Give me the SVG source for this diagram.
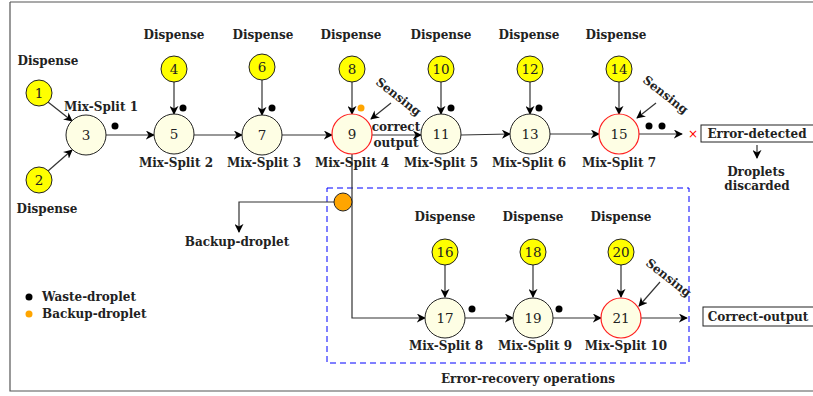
<svg xmlns="http://www.w3.org/2000/svg" width="813" height="396" viewBox="0 0 813 396">
<defs>
<marker id="ah" viewBox="0 0 10 10" refX="9" refY="5" markerWidth="9" markerHeight="9" markerUnits="userSpaceOnUse" orient="auto">
<path d="M0,0 L10,5 L0,10 L3,5 Z" fill="#000"/>
</marker>
</defs>
<style>
.lbl{font-family:"DejaVu Serif","Liberation Serif",serif;font-weight:bold;font-size:12px;fill:#222;text-anchor:middle}
.num{font-family:"DejaVu Serif","Liberation Serif",serif;font-size:13.5px;fill:#222;text-anchor:middle;dominant-baseline:central}
.disp{fill:#ffff00;stroke:#222;stroke-width:1}
.mix{fill:#fefee4;stroke:#222;stroke-width:1}
.sens{fill:#fefee4;stroke:#ff2020;stroke-width:1.2}
.ln{stroke:#333;stroke-width:1.2;fill:none}
.arr{stroke:#333;stroke-width:1.2;fill:none;marker-end:url(#ah)}
.waste{fill:#000}
.backup{fill:#ffa500}
.box{fill:#fff;stroke:#222;stroke-width:1}
</style>
<rect width="813" height="396" fill="#fff"/>
<path d="M10,2 L813,2 M10,2 L10,391 L813,391" stroke="#555" stroke-width="1.2" fill="none"/>
<rect x="327" y="188" width="362" height="175" fill="none" stroke="#0000ff" stroke-width="1" stroke-dasharray="6,4"/>

<g id="connectors">
<line class="arr" x1="48" y1="102" x2="72" y2="121"/>
<line class="arr" x1="48" y1="171" x2="72" y2="150"/>
<line class="arr" x1="106" y1="135" x2="154" y2="135"/>
<line class="arr" x1="174" y1="82" x2="174" y2="114"/>
<line class="arr" x1="194" y1="135" x2="242" y2="135"/>
<line class="arr" x1="262" y1="80" x2="262" y2="115"/>
<line class="arr" x1="282" y1="135" x2="332" y2="135"/>
<line class="arr" x1="352" y1="82" x2="352" y2="114"/>
<line class="arr" x1="372" y1="135" x2="421" y2="135"/>
<line class="arr" x1="441" y1="82" x2="441" y2="114"/>
<line class="arr" x1="461" y1="135" x2="510" y2="134"/>
<line class="arr" x1="530" y1="82" x2="530" y2="114"/>
<line class="arr" x1="550" y1="134" x2="599" y2="134"/>
<line class="arr" x1="619" y1="82" x2="619" y2="114"/>
<line class="arr" x1="639" y1="134" x2="682" y2="134"/>
<line class="arr" x1="757" y1="145" x2="757" y2="158"/>
<line class="arr" x1="391" y1="103" x2="371" y2="119"/>
<line class="arr" x1="656" y1="103" x2="637" y2="118"/>
<line class="arr" x1="660" y1="282" x2="639" y2="306"/>
<path class="arr" d="M352,154 L352,318 L425,318"/>
<path class="arr" d="M334,202 L239,202 L239,232"/>
<line class="arr" x1="445" y1="265" x2="445" y2="297"/>
<line class="arr" x1="533" y1="265" x2="533" y2="297"/>
<line class="arr" x1="621" y1="265" x2="621" y2="297"/>
<line class="arr" x1="465" y1="318" x2="513" y2="318"/>
<line class="arr" x1="553" y1="318" x2="601" y2="318"/>
<line class="arr" x1="641" y1="318" x2="687" y2="318"/>
</g>

<g id="n1"><circle class="disp" cx="39" cy="93" r="13"/><text class="num" x="39" y="93">1</text></g>
<g id="n2"><circle class="disp" cx="39" cy="180" r="13"/><text class="num" x="39" y="180">2</text></g>
<g id="n3"><circle class="mix" cx="86" cy="135" r="20"/><text class="num" x="86" y="135">3</text></g>
<g id="n4"><circle class="disp" cx="174" cy="69" r="13"/><text class="num" x="174" y="69">4</text></g>
<g id="n5"><circle class="mix" cx="174" cy="134" r="20"/><text class="num" x="174" y="134">5</text></g>
<g id="n6"><circle class="disp" cx="262" cy="67" r="13"/><text class="num" x="262" y="67">6</text></g>
<g id="n7"><circle class="mix" cx="262" cy="135" r="20"/><text class="num" x="262" y="135">7</text></g>
<g id="n8"><circle class="disp" cx="352" cy="69" r="13"/><text class="num" x="352" y="69">8</text></g>
<g id="n9"><circle class="sens" cx="352" cy="134" r="20"/><text class="num" x="352" y="134">9</text></g>
<g id="n10"><circle class="disp" cx="441" cy="69" r="13"/><text class="num" x="441" y="69">10</text></g>
<g id="n11"><circle class="mix" cx="441" cy="134" r="20"/><text class="num" x="441" y="134">11</text></g>
<g id="n12"><circle class="disp" cx="530" cy="69" r="13"/><text class="num" x="530" y="69">12</text></g>
<g id="n13"><circle class="mix" cx="530" cy="134" r="20"/><text class="num" x="530" y="134">13</text></g>
<g id="n14"><circle class="disp" cx="619" cy="69" r="13"/><text class="num" x="619" y="69">14</text></g>
<g id="n15"><circle class="sens" cx="619" cy="134" r="20"/><text class="num" x="619" y="134">15</text></g>
<g id="n16"><circle class="disp" cx="445" cy="252" r="13"/><text class="num" x="445" y="252">16</text></g>
<g id="n17"><circle class="mix" cx="445" cy="318" r="20"/><text class="num" x="445" y="318">17</text></g>
<g id="n18"><circle class="disp" cx="533" cy="252" r="13"/><text class="num" x="533" y="252">18</text></g>
<g id="n19"><circle class="mix" cx="533" cy="318" r="20"/><text class="num" x="533" y="318">19</text></g>
<g id="n20"><circle class="disp" cx="621" cy="252" r="13"/><text class="num" x="621" y="252">20</text></g>
<g id="n21"><circle class="sens" cx="621" cy="318" r="20"/><text class="num" x="621" y="318">21</text></g>

<g id="backup-node"><circle cx="343" cy="202" r="9" fill="#ffa500" stroke="#222" stroke-width="1"/></g>

<g id="waste-dots">
<circle class="waste" cx="115" cy="126" r="3.5"/>
<circle class="waste" cx="183" cy="108" r="3.5"/>
<circle class="waste" cx="272" cy="108" r="3.5"/>
<circle class="backup" cx="361" cy="108" r="3.5"/>
<circle class="waste" cx="451" cy="108" r="3.5"/>
<circle class="waste" cx="539" cy="108" r="3.5"/>
<circle class="waste" cx="649" cy="126" r="3.5"/>
<circle class="waste" cx="662" cy="126" r="3.5"/>
<circle class="waste" cx="472" cy="309" r="3.5"/>
<circle class="waste" cx="559" cy="309" r="3.5"/>
</g>

<g id="labels">
<text class="lbl" x="48" y="65">Dispense</text>
<text class="lbl" x="47" y="213">Dispense</text>
<text class="lbl" x="174" y="39">Dispense</text>
<text class="lbl" x="263" y="39">Dispense</text>
<text class="lbl" x="351" y="39">Dispense</text>
<text class="lbl" x="441" y="39">Dispense</text>
<text class="lbl" x="529" y="39">Dispense</text>
<text class="lbl" x="616" y="39">Dispense</text>
<text class="lbl" x="445" y="221">Dispense</text>
<text class="lbl" x="533" y="221">Dispense</text>
<text class="lbl" x="621" y="221">Dispense</text>
<text class="lbl" x="101" y="111">Mix-Split 1</text>
<text class="lbl" x="176" y="167">Mix-Split 2</text>
<text class="lbl" x="264" y="167">Mix-Split 3</text>
<text class="lbl" x="352" y="167">Mix-Split 4</text>
<text class="lbl" x="441" y="167">Mix-Split 5</text>
<text class="lbl" x="529" y="167">Mix-Split 6</text>
<text class="lbl" x="619" y="167">Mix-Split 7</text>
<text class="lbl" x="446" y="350">Mix-Split 8</text>
<text class="lbl" x="535" y="350">Mix-Split 9</text>
<text class="lbl" x="626" y="350">Mix-Split 10</text>
<text class="lbl" transform="translate(396,100) rotate(38)">Sensing</text>
<text class="lbl" transform="translate(663,98) rotate(38)">Sensing</text>
<text class="lbl" transform="translate(666,281) rotate(38)">Sensing</text>
<text class="lbl" x="396" y="131">correct</text>
<text class="lbl" x="396" y="147">output</text>
<text x="693" y="134" fill="#ff0000" font-family="DejaVu Sans,sans-serif" font-size="12" text-anchor="middle" dominant-baseline="central">×</text>
<text class="lbl" x="756" y="176">Droplets</text>
<text class="lbl" x="757" y="190">discarded</text>
<text class="lbl" x="237" y="246">Backup-droplet</text>
<text class="lbl" x="528" y="383">Error-recovery operations</text>
</g>

<g id="error-box"><rect class="box" x="701" y="125" width="113" height="17"/><text class="lbl" x="757" y="138">Error-detected</text></g>
<g id="correct-box"><rect class="box" x="703" y="307" width="111" height="19"/><text class="lbl" x="758" y="321">Correct-output</text></g>

<g id="legend">
<circle class="waste" cx="29" cy="297" r="3.5"/>
<text class="lbl" x="42" y="301" style="text-anchor:start">Waste-droplet</text>
<circle class="backup" cx="29" cy="314" r="3.5"/>
<text class="lbl" x="42" y="318" style="text-anchor:start">Backup-droplet</text>
</g>
</svg>
